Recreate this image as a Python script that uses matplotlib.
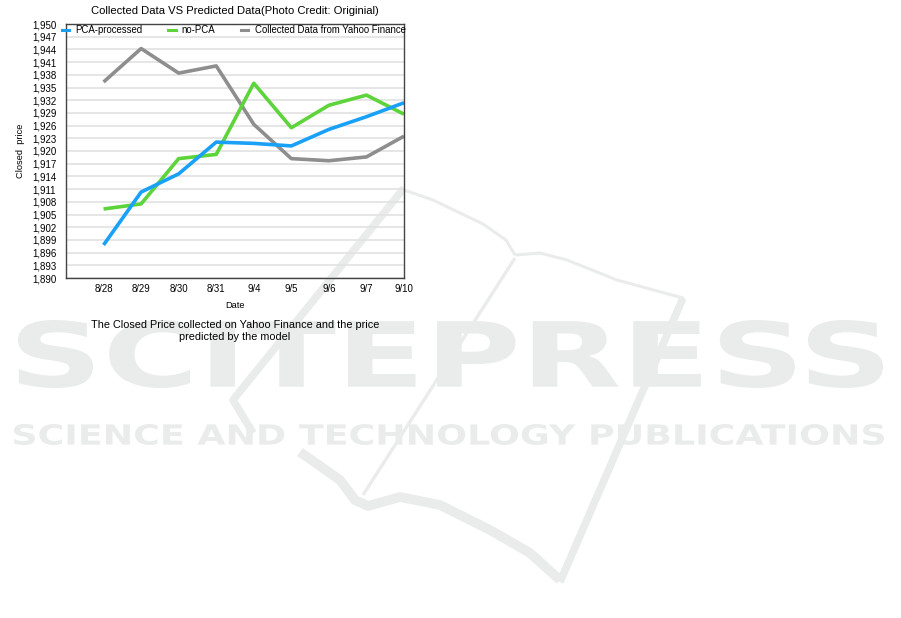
import matplotlib.pyplot as plt
import numpy as np
from matplotlib.textpath import TextPath
from matplotlib.font_manager import FontProperties
from matplotlib.patches import PathPatch
from matplotlib.transforms import Affine2D
from matplotlib.lines import Line2D

plt.rcParams['font.family'] = ['Liberation Sans', 'DejaVu Sans']

dates = ['8/28', '8/29', '8/30', '8/31', '9/4', '9/5', '9/6', '9/7', '9/10']
pca = [1897.8, 1910.3, 1914.6, 1922.1, 1921.8, 1921.2, 1925.1, 1928.1, 1931.4]
no_pca = [1906.3, 1907.5, 1918.2, 1919.2, 1936.0, 1925.5, 1930.8, 1933.2, 1928.7]
yahoo = [1936.3, 1944.2, 1938.4, 1940.1, 1926.3, 1918.2, 1917.7, 1918.6, 1923.5]

W, H = 901, 618
fig = plt.figure(figsize=(W / 100, H / 100), dpi=100)
ax = fig.add_axes([66 / W, 1 - 278 / H, (404 - 66) / W, (278 - 24) / H])
ax.patch.set_alpha(0)

x = np.arange(len(dates))
ax.plot(x, yahoo, color='#8e8e8e', lw=2.6, solid_capstyle='butt')
ax.plot(x, no_pca, color='#5cd43a', lw=2.6, solid_capstyle='butt')
ax.plot(x, pca, color='#19a0f7', lw=2.6, solid_capstyle='butt')

ax.set_xlim(-1, 8)
ax.set_ylim(1890, 1950)
ax.set_xticks(x)
ax.set_xticklabels(dates, fontsize=6.9)
yt = np.arange(1890, 1951, 3)
ax.set_yticks(yt)
ax.set_yticklabels(['{:,}'.format(v) for v in yt], fontsize=7.0)
ax.tick_params(length=0)
ax.tick_params(axis='y', pad=7)
ax.tick_params(axis='x', pad=4)
ax.grid(axis='y', color='#e2e2e2', lw=1.2)
ax.set_axisbelow(True)
for s in ax.spines.values():
    s.set_color('#444444')
    s.set_linewidth(1)

ax.set_title('Collected Data VS Predicted Data(Photo Credit: Originial)', fontsize=8.1, pad=7.5)
ax.set_xlabel('Date', fontsize=6.7, labelpad=5)
ax.set_ylabel('Closed  price', fontsize=6.7, labelpad=5)

handles = [Line2D([], [], color='#19a0f7', lw=2.2),
           Line2D([], [], color='#5cd43a', lw=2.2),
           Line2D([], [], color='#8e8e8e', lw=2.2)]
ax.legend(handles, ['PCA-processed', 'no-PCA', 'Collected Data from Yahoo Finance'],
          loc='upper left', bbox_to_anchor=(-0.012, 0.995), ncol=3, frameon=False,
          fontsize=6.9, handlelength=0.75, handletextpad=0.65, columnspacing=2.7,
          borderaxespad=0, borderpad=0)

fig.text(235 / W, 1 - 331 / H,
         'The Closed Price collected on Yahoo Finance and the price\npredicted by the model',
         ha='center', va='center', fontsize=7.85, linespacing=1.2)

# faint publisher watermark, kept behind the chart
wm = '#eaebeb'


def stamp(text, x0, y0, x1, y1):
    tp = TextPath((0, 0), text, size=50, prop=FontProperties(family='DejaVu Sans', weight='bold'))
    e = tp.get_extents()
    tr = (Affine2D().translate(-e.x0, -e.y0)
          .scale((x1 - x0) / e.width / W, (y1 - y0) / e.height / H)
          .translate(x0 / W, 1 - y1 / H))
    fig.add_artist(PathPatch(tr.transform_path(tp), transform=fig.transFigure,
                             facecolor=wm, edgecolor='none', zorder=-1))


def stroke(pts, lw):
    pts = np.array(pts, dtype=float)
    fig.add_artist(Line2D(pts[:, 0] / W, 1 - pts[:, 1] / H, transform=fig.transFigure,
                          color=wm, lw=lw, zorder=-1, solid_capstyle='butt'))


stamp('SCITEPRESS', 18, 320, 883, 388)
stamp('SCIENCE AND TECHNOLOGY PUBLICATIONS', 14, 424, 884, 445)
stroke([(404, 190), (433, 200), (483, 224), (506, 240), (515, 255)], 2.2)
stroke([(515, 255), (540, 253), (567, 260), (617, 280), (683, 298), (670, 322)], 2.2)
stroke([(515, 258), (363, 495)], 2.4)
stroke([(404, 188), (233, 400), (253, 433)], 5.5)
stroke([(300, 452), (340, 480), (355, 500), (368, 506), (400, 497), (440, 505),
        (490, 530), (530, 553), (560, 580)], 7)
stroke([(560, 582), (683, 298)], 5.5)

fig.savefig('out.png', dpi=100)
